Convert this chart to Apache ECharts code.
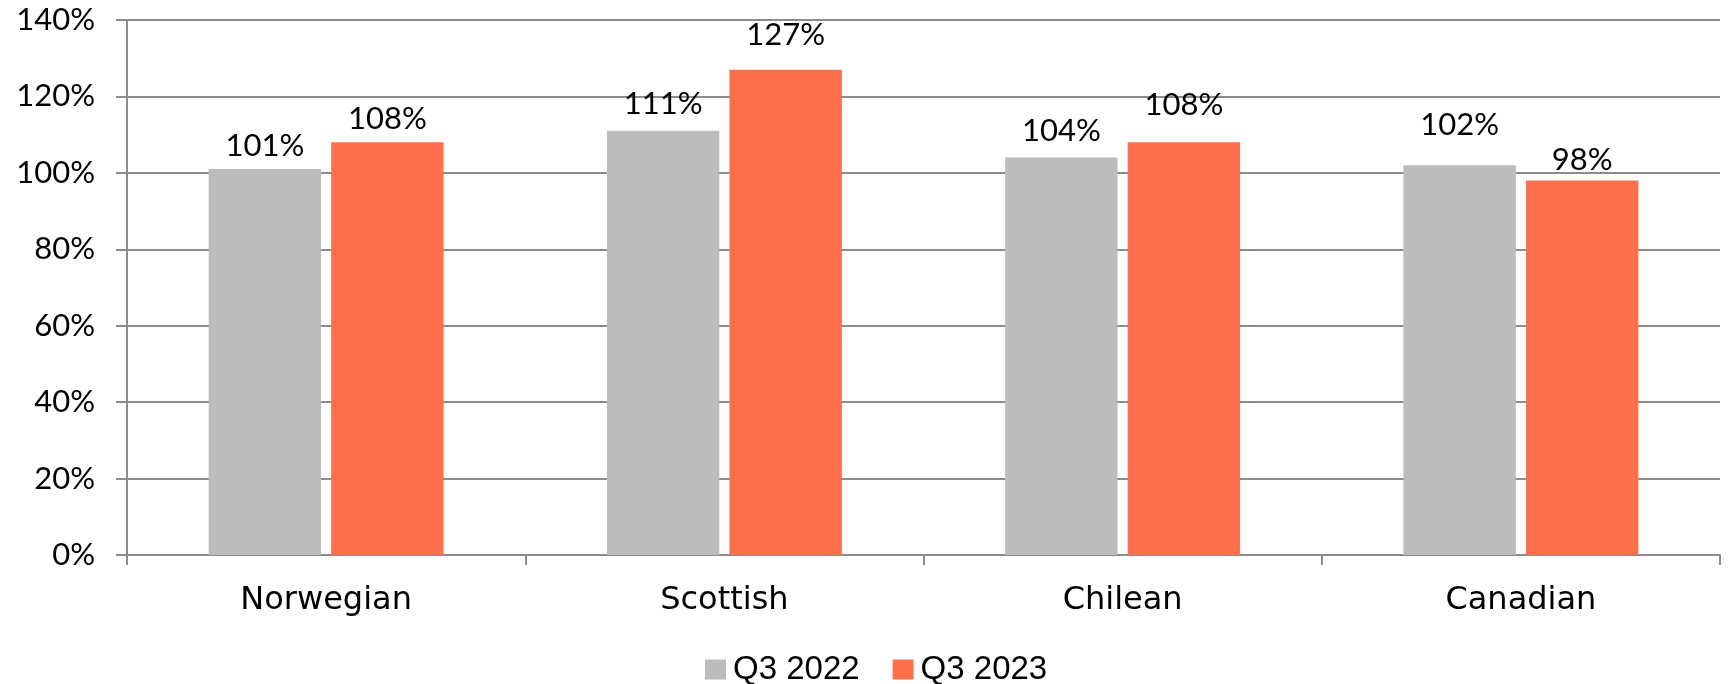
<!DOCTYPE html>
<html><head><meta charset="utf-8">
<script src="https://cdn.jsdelivr.net/npm/echarts@6/dist/echarts.min.js"></script>
<style>html,body{margin:0;padding:0;background:#fff}#c{width:1731px;height:684px}</style>
</head><body><div id="c"></div>
<script>
const categories = ["Norwegian", "Scottish", "Chilean", "Canadian"];
const seriesNames = ["Q3 2022", "Q3 2023"];
const q3_2022 = [101, 111, 104, 102];
const q3_2023 = [108, 127, 108, 98];
const yTicks = { min: 0, max: 140, interval: 20 };

// style: extra lift (px) of individual value labels, as placed in the reference
const labelLift2022 = [0, 3, 3, 17];
const labelLift2023 = [0, 11, 14, -3];

const numFont = "Lato, 'Liberation Sans', sans-serif";
const catFont = "'DejaVu Sans', sans-serif";
const baseDist = 8;
const lineColor = '#8c8c8c';

function withLabels(vals, lifts) {
  return vals.map((v, i) => ({ value: v, label: { distance: baseDist + lifts[i] } }));
}
const valueLabel = { show: true, position: 'top', formatter: '{c}%', fontFamily: numFont, fontSize: 31, color: '#000' };

const chart = echarts.init(document.getElementById('c'), null, { renderer: 'canvas' });
chart.setOption({
  animation: false,
  backgroundColor: '#fff',
  grid: { left: 127, right: 11, top: 20, bottom: 129, containLabel: false },
  legend: {
    data: seriesNames, bottom: -7, left: 700,
    itemWidth: 21, itemHeight: 20, itemGap: 33,
    icon: 'rect',
    textStyle: { fontFamily: "'Liberation Sans', Arial, sans-serif", fontSize: 33, color: '#000', padding: [0, 0, 0, 2] }
  },
  xAxis: {
    type: 'category', data: categories,
    axisLine: { lineStyle: { color: lineColor, width: 2 } },
    axisTick: { show: true, length: 10, alignWithLabel: false, lineStyle: { color: lineColor, width: 2 } },
    axisLabel: { margin: 30, fontFamily: catFont, fontSize: 32, color: '#000' }
  },
  yAxis: {
    type: 'value', min: yTicks.min, max: yTicks.max, interval: yTicks.interval,
    axisLine: { show: true, lineStyle: { color: lineColor, width: 2 } },
    axisTick: { show: true, length: 11, lineStyle: { color: lineColor, width: 2 } },
    splitLine: { show: true, lineStyle: { color: lineColor, width: 2 } },
    axisLabel: { margin: 32, fontFamily: numFont, fontSize: 31, color: '#000', formatter: '{value}%' }
  },
  series: [
    { name: seriesNames[0], type: 'bar', data: withLabels(q3_2022, labelLift2022), barGap: '9%', barCategoryGap: '41%',
      itemStyle: { color: '#bbbcbb' }, label: valueLabel },
    { name: seriesNames[1], type: 'bar', data: withLabels(q3_2023, labelLift2023), barGap: '9%', barCategoryGap: '41%',
      itemStyle: { color: '#ff6f4c' }, label: valueLabel }
  ]
});
</script></body></html>
